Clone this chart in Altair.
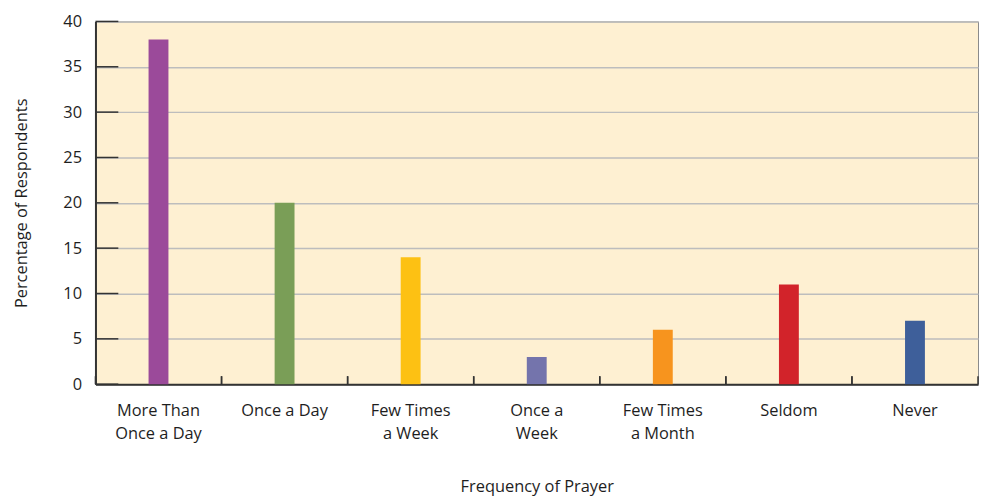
import altair as alt
import pandas as pd

categories = ["More Than Once a Day", "Once a Day", "Few Times a Week", "Once a Week",
              "Few Times a Month", "Seldom", "Never"]
label_lines = [["More Than", "Once a Day"], ["Once a Day"], ["Few Times", "a Week"],
               ["Once a", "Week"], ["Few Times", "a Month"], ["Seldom"], ["Never"]]
values = [38, 20, 14, 3, 6, 11, 7]
colors = ["#9B4A9A", "#7A9E57", "#FDC113", "#7474AC", "#F7941E", "#D2232A", "#3E5F9A"]
y_ticks = [0, 5, 10, 15, 20, 25, 30, 35, 40]

df = pd.DataFrame({"cat": categories, "val": values})
ticks_df = pd.DataFrame({"t": y_ticks})

label_expr = ""
for c, lines in zip(categories, label_lines):
    arr = "[" + ",".join("'" + l + "'" for l in lines) + "]"
    label_expr += f"datum.value == '{c}' ? {arr} : "
label_expr += "datum.label"

FONT = "Open Sans"
FS = 16.5
W, H = 888, 365

xscale = alt.Scale(domain=categories, paddingInner=0, paddingOuter=0)
yscale = alt.Scale(domain=[0, 40], nice=False)

bars = alt.Chart(df).mark_bar(size=20).encode(
    x=alt.X("cat:N", scale=xscale, sort=categories,
            axis=alt.Axis(title="Frequency of Prayer", labelExpr=label_expr, labelAngle=0,
                          ticks=False, domain=True, domainColor="#333333", domainWidth=2,
                          labelFont=FONT, labelFontSize=FS, labelColor="#1E1E1E",
                          labelPadding=27, labelLineHeight=23, labelBaseline="middle",
                          titleFont=FONT, titleFontSize=FS, titleFontWeight="normal",
                          titleColor="#1E1E1E", titlePadding=36, grid=False)),
    y=alt.Y("val:Q", scale=yscale,
            axis=alt.Axis(title="Percentage of Respondents", values=y_ticks, ticks=False,
                          domain=True, domainColor="#333333", domainWidth=2,
                          grid=True, gridColor="#BDBDBD", gridWidth=1.5,
                          labelFont=FONT, labelFontSize=FS, labelColor="#1E1E1E",
                          labelPadding=14, titleFont=FONT, titleFontSize=FS,
                          titleFontWeight="normal", titleColor="#1E1E1E", titlePadding=34)),
    color=alt.Color("cat:N", scale=alt.Scale(domain=categories, range=colors), legend=None),
)

ytick_rules = alt.Chart(ticks_df).mark_rule(color="#333333", strokeWidth=1.5).encode(
    y=alt.Y("t:Q", scale=yscale),
    x=alt.value(0), x2=alt.value(23),
)

xtick_left = alt.Chart(df).mark_rule(color="#333333", strokeWidth=1.5).encode(
    x=alt.X("cat:N", scale=xscale, sort=categories, bandPosition=0),
    y=alt.value(H), y2=alt.value(H - 8),
)
xtick_right = alt.Chart(df).mark_rule(color="#333333", strokeWidth=1.5).encode(
    x=alt.X("cat:N", scale=xscale, sort=categories, bandPosition=1),
    y=alt.value(H), y2=alt.value(H - 8),
)

chart = alt.layer(bars, ytick_rules, xtick_left, xtick_right).properties(
    width=W, height=H,
    autosize=alt.AutoSizeParams(type="none"),
    padding={"left": 88, "top": 12, "right": 2, "bottom": 114},
    background="white",
).configure_view(
    fill="#FEF0D2", stroke="#8A8A8A", strokeWidth=1
)

chart.save("out.html", embed_options={"renderer": "svg", "actions": False})
